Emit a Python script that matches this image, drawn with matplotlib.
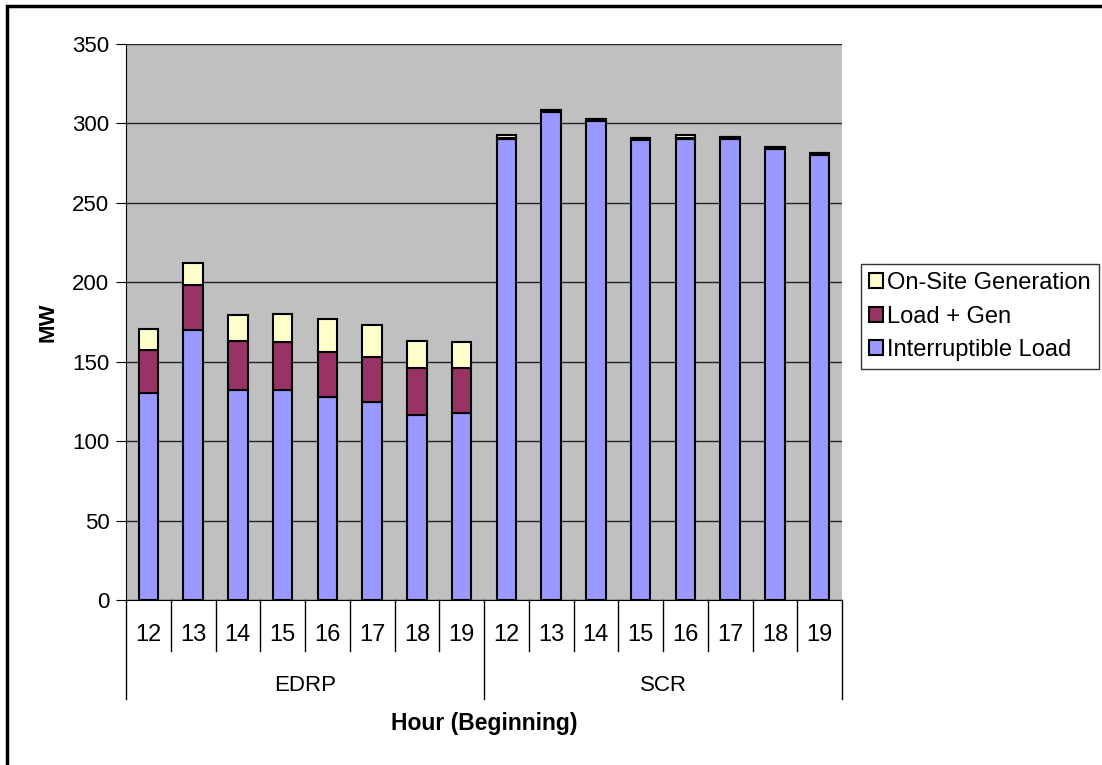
import matplotlib
matplotlib.use("Agg")
import matplotlib.pyplot as plt
import matplotlib.transforms as mtransforms
from matplotlib.patches import Rectangle

plt.rcParams['font.family'] = ['Liberation Sans', 'DejaVu Sans']

groups = ["EDRP", "SCR"]
hours = ["12", "13", "14", "15", "16", "17", "18", "19"]

# MW by hour, EDRP then SCR
interruptible = [130.4, 169.8, 132.5, 132.5, 128.1, 124.7, 116.6, 117.8,
                 290.3, 307.3, 301.5, 289.5, 290.3, 290.3, 283.7, 280.2]
load_gen = [26.8, 28.7, 30.6, 29.6, 28.3, 28.3, 29.5, 28.3,
            0.4, 1.0, 1.2, 1.2, 0.4, 1.2, 1.2, 1.2]
onsite = [13.1, 13.7, 16.1, 18.2, 20.5, 20.4, 17.2, 16.0,
          2.0, 0.3, 0.2, 0.1, 2.0, 0.1, 0.1, 0.1]

W, H = 1102, 765
fig = plt.figure(figsize=(W / 100, H / 100), dpi=100)
ax = fig.add_axes([126 / W, (H - 600) / H, 716 / W, 556 / H])
ax.set_facecolor("#C0C0C0")

x = list(range(len(interruptible)))
bw = 0.44
b1 = ax.bar(x, interruptible, bw, color="#9999FF", edgecolor="black", lw=1.5,
            label="Interruptible Load", zorder=3)
base2 = interruptible
b2 = ax.bar(x, load_gen, bw, bottom=base2, color="#993366", edgecolor="black", lw=1.5,
            label="Load + Gen", zorder=3)
base3 = [a + b for a, b in zip(interruptible, load_gen)]
b3 = ax.bar(x, onsite, bw, bottom=base3, color="#FFFFCC", edgecolor="black", lw=1.5,
            label="On-Site Generation", zorder=3)

ax.set_xlim(-0.5, len(x) - 0.5)
ax.set_ylim(0, 350)
ax.set_yticks(range(0, 351, 50))
ax.yaxis.grid(True, color="#222222", lw=1)
ax.set_axisbelow(True)
ax.tick_params(axis="y", labelsize=16, length=7, direction="out", pad=5)
ax.set_xticks([])
for s in ["top", "right"]:
    ax.spines[s].set_visible(False)
ax.spines["left"].set_color("black")
ax.spines["bottom"].set_color("black")
ax.set_ylabel("MW", fontsize=16, fontweight="bold", labelpad=10)

# category axis below the plot
tr = mtransforms.blended_transform_factory(ax.transData, ax.transAxes)
n = len(hours)
for i in range(len(x)):
    ax.text(i, -0.063, hours[i % n], transform=tr, ha="center", va="center", fontsize=17)
for i in range(len(x) + 1):
    bottom = -0.178 if i % n == 0 else -0.092
    ax.plot([i - 0.5, i - 0.5], [0, bottom], transform=tr, color="black", lw=1, clip_on=False)
for g, name in enumerate(groups):
    ax.text(g * n + (n - 1) / 2, -0.153, name, transform=tr, ha="center", va="center", fontsize=16)
ax.text(0.5, -0.222, "Hour (Beginning)", transform=ax.transAxes, ha="center", va="center",
        fontsize=16.5, fontweight="bold")

leg = fig.legend([b3, b2, b1], ["On-Site Generation", "Load + Gen", "Interruptible Load"],
                 loc="upper left", bbox_to_anchor=(861 / W, 1 - 264 / H),
                 fontsize=17, frameon=True, fancybox=False, edgecolor="black",
                 handlelength=0.6, handleheight=0.6, handletextpad=0.15,
                 borderpad=0.35, labelspacing=0.48, borderaxespad=0)
leg.get_frame().set_linewidth(1)

# outer chart border
fig.patches.append(Rectangle((6.5 / W, -0.1), 1.2, (H - 6.5) / H + 0.1, transform=fig.transFigure,
                             fill=False, edgecolor="black", lw=2.5))

fig.savefig("out.png", dpi=100)
